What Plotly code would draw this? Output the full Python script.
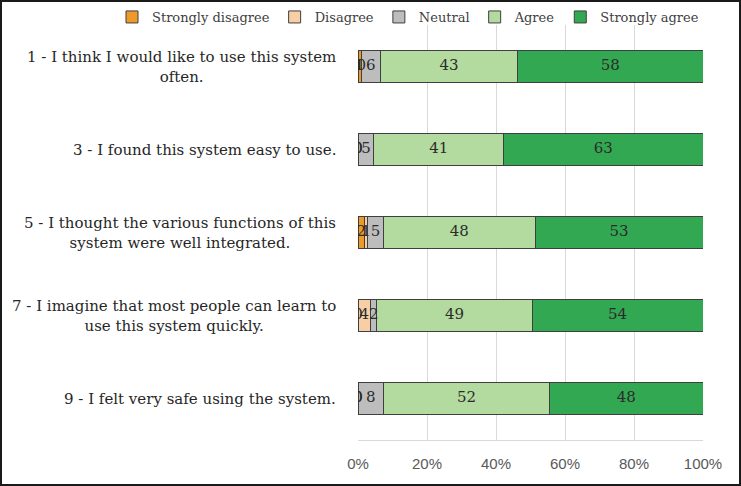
import plotly.graph_objects as go

# SUS item responses (counts)
statements = [
    "1 - I think I would like to use this system<br>often.",
    "3 - I found this system easy to use.",
    "5 - I thought the various functions of this<br>system were well integrated.",
    "7 - I imagine that most people can learn to<br>use this system quickly.",
    "9 - I felt very safe using the system.",
]
item_ids = ["Q1", "Q3", "Q5", "Q7", "Q9"]
strongly_disagree = [1, 0, 2, 0, 0]
disagree = [0, 0, 1, 4, 0]
neutral = [6, 5, 5, 2, 8]
agree = [43, 41, 48, 49, 52]
strongly_agree = [58, 63, 53, 54, 48]

series = [
    ("Strongly disagree", strongly_disagree, "#EE9A2A"),
    ("Disagree", disagree, "#F8CFA4"),
    ("Neutral", neutral, "#BDBDBD"),
    ("Agree", agree, "#B3DB9F"),
    ("Strongly agree", strongly_agree, "#33A852"),
]
x_ticks = [0, 20, 40, 60, 80, 100]
x_tick_labels = ["0%", "20%", "40%", "60%", "80%", "100%"]

totals = [sum(s[1][i] for s in series) for i in range(len(item_ids))]

fig = go.Figure()
for name, vals, color in series:
    fig.add_trace(go.Bar(
        y=item_ids, x=vals, name=name, orientation="h",
        marker=dict(color=color, line=dict(color="#3f3f3f", width=1)),
        hoverinfo="x+name",
    ))

# data labels, centred on each segment (zeros sit at the segment start)
start = [0] * len(item_ids)
for name, vals, color in series:
    mids = []
    for i, v in enumerate(vals):
        mids.append((start[i] + v / 2) / totals[i] * 100)
        start[i] += v
    fig.add_trace(go.Scatter(
        y=item_ids, x=mids, mode="text", text=[str(v) for v in vals],
        textfont=dict(family="DejaVu Serif", size=15, color="#2b2b2b"),
        showlegend=False, hoverinfo="skip",
    ))

# wrapped category labels, centred lines like the original
for cid, label in zip(item_ids, statements):
    fig.add_annotation(
        x=-0.058, xref="paper", y=cid, yref="y", text=label,
        xanchor="right", align="center", showarrow=False,
        font=dict(family="DejaVu Serif", size=15, color="#262626"),
    )

# outer frame
fig.add_shape(type="rect", xref="paper", yref="paper",
              x0=-357 / 345, x1=1 + 37 / 345, y0=-45 / 415, y1=1 + 24 / 415,
              line=dict(color="#1a1a1a", width=2))

fig.update_layout(
    width=741, height=486,
    margin=dict(l=358, r=38, t=25, b=46, autoexpand=False),
    barmode="stack", barnorm="percent", bargap=0.61,
    plot_bgcolor="white", paper_bgcolor="white",
    legend=dict(orientation="h", xref="paper", yref="paper",
                x=-246 / 345, xanchor="left", y=1 + 8 / 415, yanchor="middle",
                font=dict(family="DejaVu Serif", size=13, color="#404040"),
                itemwidth=30, traceorder="normal", bgcolor="rgba(0,0,0,0)"),
    xaxis=dict(range=[0, 100], tickvals=x_ticks, ticktext=x_tick_labels,
               showgrid=True, gridcolor="#D9D9D9", zeroline=False,
               showline=True, linecolor="#D9D9D9", automargin=False,
               ticklabelstandoff=10,
               tickfont=dict(family="Liberation Sans", size=15, color="#595959")),
    yaxis=dict(autorange="reversed", showticklabels=False, showgrid=False,
               automargin=False),
    showlegend=True,
)

fig.write_html("out.html", config={"displayModeBar": False},
               post_script="document.body.style.margin='0';")
